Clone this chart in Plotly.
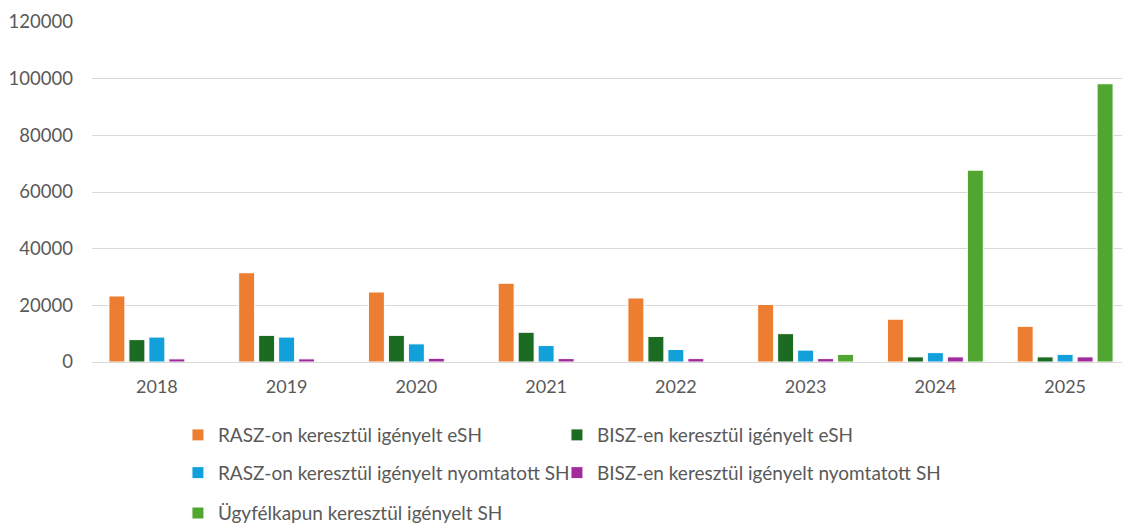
import plotly.graph_objects as go

# --- data ---
years = ["2018", "2019", "2020", "2021", "2022", "2023", "2024", "2025"]

rasz_esh = [23300, 31500, 24700, 27800, 22600, 20300, 15100, 12600]
bisz_esh = [7900, 9400, 9400, 10500, 9000, 10000, 1800, 1800]
rasz_print = [8800, 8800, 6400, 5800, 4400, 4200, 3300, 2700]
bisz_print = [1100, 1100, 1300, 1200, 1200, 1200, 1800, 1800]
ugyfelkapu = [0, 0, 0, 0, 0, 2700, 67700, 98200]

# one legend per legend cell so every entry can be placed like the Excel original
series = [
    ("RASZ-on keresztül igényelt eSH", rasz_esh, "#ED7D31", "legend"),
    ("BISZ-en keresztül igényelt eSH", bisz_esh, "#1B6B22", "legend2"),
    ("RASZ-on keresztül igényelt nyomtatott SH", rasz_print, "#11A0DA", "legend3"),
    ("BISZ-en keresztül igényelt nyomtatott SH", bisz_print, "#A12B9C", "legend4"),
    ("Ügyfélkapun keresztül igényelt SH", ugyfelkapu, "#50A631", "legend5"),
]

FONT = "Lato"
GREY = "#595959"

fig = go.Figure()
for name, vals, color, leg in series:
    fig.add_trace(go.Bar(
        x=years, y=vals, name=name, legend=leg, showlegend=True,
        marker=dict(color=color, line=dict(color="white", width=1)),
    ))

# page body has an 8px margin, so everything is laid out 8px up/left
legend_common = dict(
    orientation="h", xref="container", yref="container",
    xanchor="left", yanchor="middle",
    font=dict(family=FONT, size=19, color=GREY),
    bgcolor="rgba(0,0,0,0)",
)
col1, col2 = 0.1504, 0.4858
row1, row2, row3 = 0.185, 0.113, 0.036

fig.update_layout(
    width=1130, height=524,
    paper_bgcolor="white", plot_bgcolor="white",
    margin=dict(l=84, r=8, t=14, b=170),
    barmode="group", bargap=0.23, bargroupgap=0.2,
    font=dict(family=FONT, size=18, color=GREY),
    showlegend=True,
    legend=dict(legend_common, x=col1, y=row1),
    legend2=dict(legend_common, x=col2, y=row1),
    legend3=dict(legend_common, x=col1, y=row2),
    legend4=dict(legend_common, x=col2, y=row2),
    legend5=dict(legend_common, x=col1, y=row3),
    xaxis=dict(
        showgrid=False, showline=False, ticks="", automargin=False,
        ticklabelstandoff=12,
        tickfont=dict(family=FONT, size=18, color=GREY),
    ),
    yaxis=dict(
        range=[0, 120000], tickvals=list(range(0, 120001, 20000)),
        tickformat="d", showgrid=True, gridcolor="#D9D9D9", gridwidth=1,
        zeroline=True, zerolinecolor="#D9D9D9", zerolinewidth=1,
        showline=False, ticks="", ticklabelstandoff=18, automargin=False,
        tickfont=dict(family=FONT, size=18.5, color=GREY),
    ),
)

fig.write_html("out.html")
